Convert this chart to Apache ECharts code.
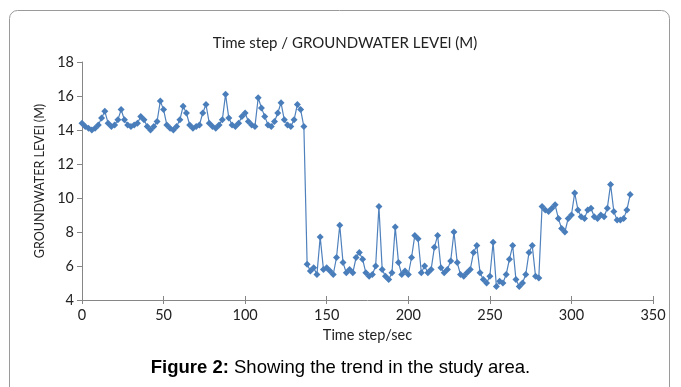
<!DOCTYPE html>
<html>
<head>
<meta charset="utf-8">
<script src="https://cdn.jsdelivr.net/npm/echarts@6/dist/echarts.min.js"></script>
<style>
  html, body { margin: 0; padding: 0; background: #fff; }
  #chart { width: 681px; height: 387px; }
</style>
</head>
<body>
<div id="chart"></div>
<script>
// groundwater level, one reading every 2 time steps starting at 0
const levels = [
  14.4, 14.2, 14.1, 14.0, 14.1, 14.3, 14.7, 15.1, 14.4, 14.2,
  14.3, 14.6, 15.2, 14.6, 14.3, 14.2, 14.3, 14.4, 14.8, 14.6,
  14.2, 14.0, 14.2, 14.5, 15.7, 15.2, 14.3, 14.1, 14.0, 14.2,
  14.6, 15.4, 15.0, 14.3, 14.1, 14.2, 14.3, 15.0, 15.5, 14.4,
  14.2, 14.1, 14.3, 14.6, 16.1, 14.7, 14.3, 14.2, 14.4, 14.8,
  15.0, 14.5, 14.3, 14.2, 15.9, 15.3, 14.8, 14.3, 14.2, 14.5,
  15.0, 15.6, 14.6, 14.3, 14.2, 14.6, 15.5, 15.2, 14.2, 6.1,
  5.7, 5.9, 5.5, 7.7, 5.8, 5.9, 5.7, 5.5, 6.5, 8.4,
  6.2, 5.6, 5.8, 5.6, 6.5, 6.8, 6.4, 5.6, 5.4, 5.5,
  6.0, 9.5, 5.8, 5.4, 5.2, 5.6, 8.3, 6.2, 5.5, 5.7,
  5.5, 6.5, 7.8, 7.6, 5.6, 6.0, 5.6, 5.8, 7.1, 7.8,
  5.9, 5.6, 5.8, 6.3, 8.0, 6.2, 5.5, 5.4, 5.6, 5.8,
  6.8, 7.2, 5.6, 5.2, 5.0, 5.4, 7.4, 4.8, 5.1, 5.0,
  5.5, 6.4, 7.2, 5.2, 4.8, 5.0, 5.5, 6.8, 7.2, 5.4,
  5.3, 9.5, 9.3, 9.2, 9.4, 9.6, 8.8, 8.2, 8.0, 8.8,
  9.0, 10.3, 9.3, 8.9, 8.8, 9.3, 9.4, 8.9, 8.8, 9.0,
  8.9, 9.4, 10.8, 9.2, 8.7, 8.7, 8.8, 9.3, 10.2
];
const timeSteps = levels.map((_, i) => i * 2);

const yTicks = { min: 4, max: 18, interval: 2 };
const xTicks = { min: 0, max: 350, interval: 50 };

const chart = echarts.init(document.getElementById('chart'));

const axisGray = '#868686';
const textColor = '#222';
const font = 'Lato';

chart.setOption({
  animation: false,
  graphic: [
    {
      type: 'rect',
      shape: { x: 9.5, y: 10.5, width: 660, height: 400, r: 8 },
      style: { fill: 'none', stroke: '#9a9a9a', lineWidth: 1 }
    },
    {
      type: 'text',
      left: 'center',
      top: 358,
      style: {
        text: '{b|Figure 2:} Showing the trend in the study area.',
        font: '18.5px "Liberation Sans"',
        fill: '#000',
        rich: { b: { fontWeight: 'bold', fontSize: 18.5, fontFamily: 'Liberation Sans' } }
      }
    }
  ],
  title: {
    text: 'Time step / GROUNDWATER LEVEl (M)',
    left: 340,
    textAlign: 'center',
    top: 31,
    textStyle: { fontFamily: font, fontSize: 15, fontWeight: 'normal', color: textColor }
  },
  grid: { left: 82, right: 28, top: 62, bottom: 87 },
  xAxis: [
    {
      type: 'value',
      min: xTicks.min, max: xTicks.max, interval: xTicks.interval,
      name: 'Time step/sec',
      nameLocation: 'middle',
      nameGap: 26,
      nameTextStyle: { fontFamily: font, fontSize: 14.5, color: textColor },
      axisLine: { lineStyle: { color: axisGray } },
      axisTick: { length: 4, lineStyle: { color: axisGray } },
      axisLabel: { fontFamily: font, fontSize: 14.5, color: textColor, margin: 8 },
      splitLine: { show: false }
    },
    {
      type: 'value',
      position: 'bottom',
      min: xTicks.min, max: xTicks.max, interval: xTicks.interval,
      axisLine: { show: false },
      axisTick: { inside: true, length: 4, lineStyle: { color: axisGray } },
      axisLabel: { show: false },
      splitLine: { show: false }
    }
  ],
  yAxis: {
    type: 'value',
    min: yTicks.min, max: yTicks.max, interval: yTicks.interval,
    name: 'GROUNDWATER LEVEl (M)',
    nameLocation: 'middle',
    nameGap: 31,
    nameTextStyle: { fontFamily: font, fontSize: 12.5, color: textColor },
    axisLine: { show: true, lineStyle: { color: axisGray } },
    axisTick: { show: true, length: 5, lineStyle: { color: axisGray } },
    axisLabel: { fontFamily: font, fontSize: 14.5, color: textColor, margin: 8 },
    splitLine: { show: false }
  },
  series: [
    {
      type: 'line',
      data: timeSteps.map((t, i) => [t, levels[i]]),
      symbol: 'diamond',
      symbolSize: 7,
      showAllSymbol: true,
      lineStyle: { color: '#4f81bd', width: 1.2 },
      itemStyle: { color: '#4a7ebb' }
    }
  ]
});
</script>
</body>
</html>
